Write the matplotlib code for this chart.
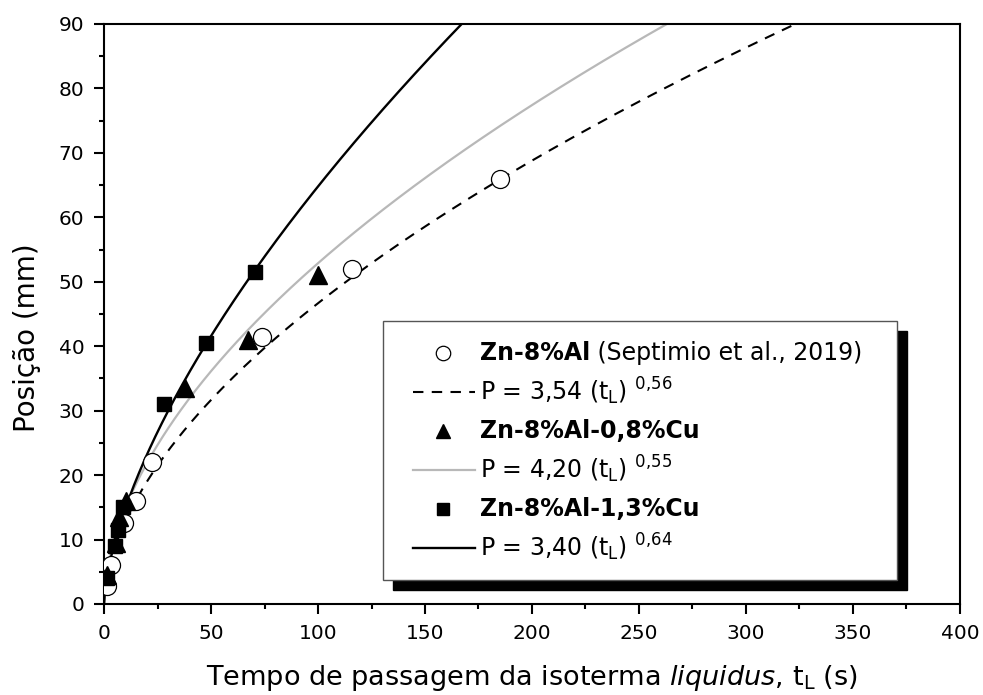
import numpy as np
import matplotlib.pyplot as plt
from matplotlib import rcParams
from matplotlib.lines import Line2D
from matplotlib.patches import Rectangle

rcParams['font.family'] = 'DejaVu Sans'
rcParams['mathtext.fontset'] = 'dejavusans'

# measured points (t in s, position in mm)
t_al = [1.5, 3.5, 9.5, 15, 22.5, 74, 116, 185]
p_al = [2.8, 6, 12.5, 16, 22, 41.5, 52, 66]
t_cu08 = [1.5, 5.5, 7, 10.5, 38, 67.5, 100]
p_cu08 = [4.5, 9.5, 13.5, 16, 33.5, 41, 51]
t_cu13 = [1.5, 5, 6.5, 9, 28, 47.5, 70.5]
p_cu13 = [4, 9, 11.5, 15, 31, 40.5, 51.5]

# power-law fits P = a * t^b
fit_a = [3.54, 4.20, 3.40]
fit_b = [0.56, 0.55, 0.64]

labels_alloy = ['Zn-8%Al', 'Zn-8%Al-0,8%Cu', 'Zn-8%Al-1,3%Cu']
labels_fit = [r'P = 3,54 (t$_{\rm L}$) $^{0{,}56}$',
              r'P = 4,20 (t$_{\rm L}$) $^{0{,}55}$',
              r'P = 3,40 (t$_{\rm L}$) $^{0{,}64}$']

gray = '#b8b8b8'
fit_styles = [dict(color='black', ls=(0, (5, 4)), lw=1.5),
              dict(color=gray, ls='-', lw=1.6),
              dict(color='black', ls='-', lw=1.7)]
mk_styles = [dict(marker='o', mfc='white', mec='black', mew=0.9, ms=13),
             dict(marker='^', mfc='black', mec='black', ms=13),
             dict(marker='s', mfc='black', mec='black', ms=10)]

fig = plt.figure(figsize=(9.83, 6.95), dpi=100)
ax = fig.add_axes([0.1058, 0.131, 0.8708, 0.8345])

t = np.linspace(0, 400, 1200)
for a, b, st in zip(fit_a, fit_b, fit_styles):
    ax.plot(t, a * t ** b, **st, zorder=2)

for tt, pp, st in zip([t_al, t_cu08, t_cu13], [p_al, p_cu08, p_cu13], mk_styles):
    ax.plot(tt, pp, ls='none', **st, zorder=3)

ax.set_xlim(0, 400)
ax.set_ylim(0, 90)
ax.set_xticks(np.arange(0, 401, 50))
ax.set_xticks(np.arange(0, 401, 25), minor=True)
ax.set_yticks(np.arange(0, 91, 10))
ax.set_yticks(np.arange(0, 91, 5), minor=True)
ax.tick_params(which='major', direction='out', length=7.2, width=1.5, labelsize=14.5, pad=7)
ax.tick_params(which='minor', direction='out', length=3.6, width=1.5)
for s in ax.spines.values():
    s.set_linewidth(1.5)

ax.set_xlabel(r'Tempo de passagem da isoterma $\it{liquidus}$, t$_{\rm L}$ (s)', fontsize=19.5)
ax.set_ylabel('Posição (mm)', fontsize=20)
ax.xaxis.set_label_coords(0.5, -0.102)
ax.yaxis.set_label_coords(-0.074, 0.459)

# legend box with solid drop shadow
lx0, lx1, ly0, ly1 = 0.3256, 0.9261, 0.0414, 0.4884
sdx, sdy = 0.0117, 0.0172
ax.add_patch(Rectangle((lx0 + sdx, ly0 - sdy), lx1 - lx0, ly1 - ly0, transform=ax.transAxes,
                       facecolor='black', edgecolor='black', zorder=5))
ax.add_patch(Rectangle((lx0, ly0), lx1 - lx0, ly1 - ly0, transform=ax.transAxes,
                       facecolor='white', edgecolor='#555555', lw=1.0, zorder=6))

rows = [0.4333, 0.3660, 0.2988, 0.2316, 0.1643, 0.0971]
mx, hx0, hx1, tx = 0.3960, 0.3610, 0.4334, 0.4393
for i in range(3):
    ym, yl = rows[2 * i], rows[2 * i + 1]
    st = dict(mk_styles[i])
    st['ms'] = st['ms'] * 0.8
    ax.add_line(Line2D([mx], [ym], ls='none', transform=ax.transAxes, zorder=7, **st))
    ax.add_line(Line2D([hx0, hx1], [yl, yl], transform=ax.transAxes, zorder=7, **fit_styles[i]))
    lab = ax.text(tx, ym, labels_alloy[i], transform=ax.transAxes, fontsize=17,
                  fontweight='bold', va='center', ha='left', zorder=7)
    if i == 0:
        ax.annotate(' (Septimio et al., 2019)', xy=(1, 0), xycoords=lab, va='bottom',
                    ha='left', fontsize=17, zorder=7)
    ax.text(tx, yl, labels_fit[i], transform=ax.transAxes, fontsize=17,
            va='center', ha='left', zorder=7)

fig.savefig('out.png', dpi=100)
